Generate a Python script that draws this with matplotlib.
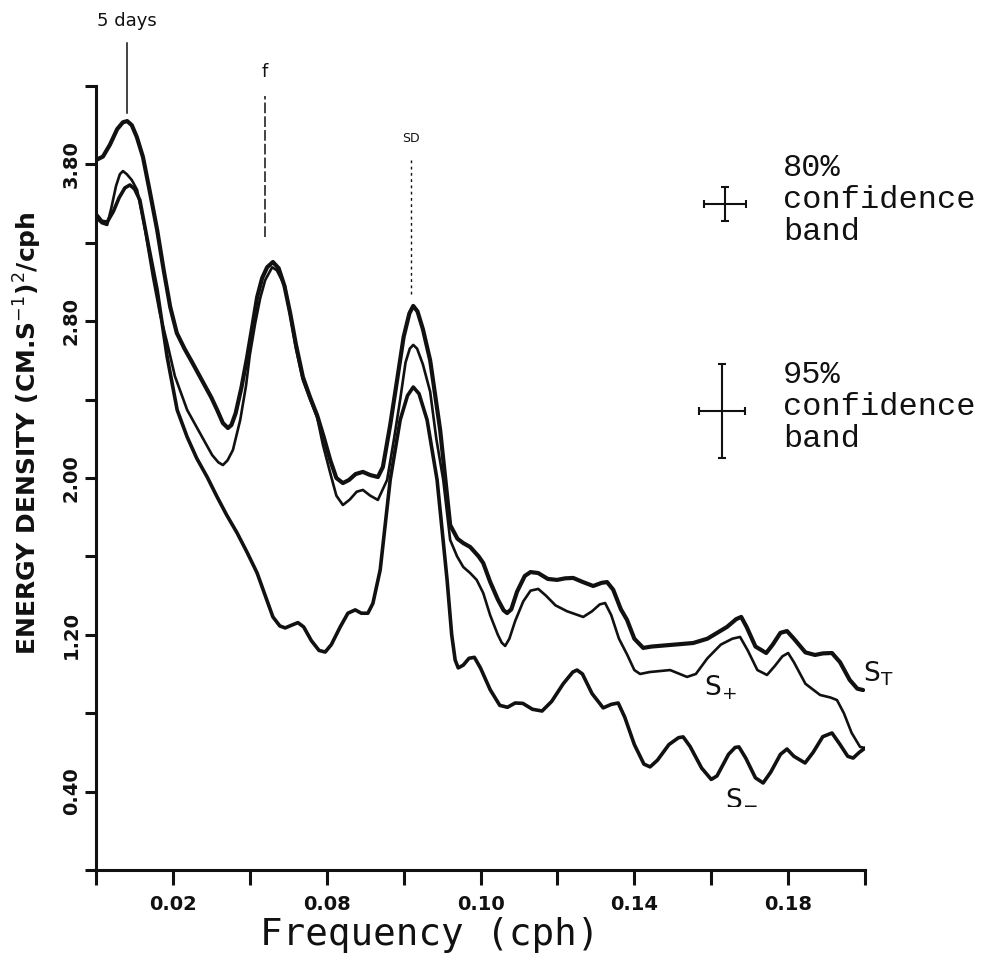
import matplotlib
matplotlib.use("Agg")
import matplotlib.pyplot as plt

# ---- spectra: total (S_T), clockwise (S_+) and anticlockwise (S_-) energy density ----
freq_total = [0.0, 0.0018, 0.0036, 0.0055, 0.0070, 0.0081, 0.0093, 0.0106, 0.0122, 0.0140,
              0.0159, 0.0176, 0.0193, 0.0210, 0.0230, 0.0250, 0.0275, 0.0300, 0.0315, 0.0330,
              0.0343, 0.0352, 0.0363, 0.0378, 0.0393, 0.0407, 0.0419, 0.0432, 0.0445, 0.0460,
              0.0475, 0.0490, 0.0505, 0.0520, 0.0538, 0.0557, 0.0575, 0.0592, 0.0609, 0.0625,
              0.0642, 0.0658, 0.0675, 0.0694, 0.0713, 0.0733, 0.0746, 0.0765, 0.0783, 0.0800,
              0.0815, 0.0825, 0.0836, 0.0850, 0.0869, 0.0895, 0.0921, 0.0940, 0.0955, 0.0973,
              0.0995, 0.1007, 0.1025, 0.1045, 0.1060, 0.1069, 0.1080, 0.1095, 0.1115, 0.1130,
              0.1150, 0.1175, 0.1199, 0.1220, 0.1241, 0.1265, 0.1293, 0.1315, 0.1329, 0.1345,
              0.1365, 0.1381, 0.1400, 0.1423, 0.1445, 0.1493, 0.1553, 0.1590, 0.1641, 0.1665,
              0.1678, 0.1692, 0.1715, 0.1743, 0.1760, 0.1780, 0.1797, 0.1815, 0.1845, 0.1870,
              0.1890, 0.1914, 0.1935, 0.1960, 0.1980, 0.1995]
energy_total = [3.622, 3.640, 3.700, 3.780, 3.815, 3.821, 3.800, 3.740, 3.638, 3.460,
                3.265, 3.060, 2.872, 2.740, 2.660, 2.590, 2.500, 2.410, 2.347, 2.280,
                2.255, 2.270, 2.330, 2.460, 2.617, 2.780, 2.923, 3.020, 3.075, 3.102,
                3.070, 2.980, 2.840, 2.680, 2.515, 2.410, 2.320, 2.210, 2.092, 2.000,
                1.974, 1.990, 2.020, 2.031, 2.015, 2.005, 2.056, 2.270, 2.500, 2.720,
                2.840, 2.878, 2.850, 2.760, 2.600, 2.245, 1.760, 1.690, 1.668, 1.648,
                1.600, 1.566, 1.470, 1.380, 1.325, 1.311, 1.330, 1.420, 1.500, 1.520,
                1.515, 1.485, 1.480, 1.488, 1.490, 1.470, 1.449, 1.465, 1.469, 1.430,
                1.330, 1.276, 1.180, 1.133, 1.140, 1.148, 1.158, 1.180, 1.240, 1.280,
                1.291, 1.240, 1.140, 1.107, 1.150, 1.210, 1.219, 1.180, 1.110, 1.097,
                1.105, 1.107, 1.060, 0.970, 0.925, 0.918]

freq_plus = [0.0, 0.0015, 0.0029, 0.0040, 0.0052, 0.0062, 0.0070, 0.0080, 0.0093, 0.0107,
             0.0128, 0.0148, 0.0166, 0.0185, 0.0205, 0.0237, 0.0270, 0.0302, 0.0318, 0.0330,
             0.0342, 0.0356, 0.0375, 0.0390, 0.0400, 0.0414, 0.0427, 0.0440, 0.0458, 0.0470,
             0.0491, 0.0505, 0.0520, 0.0538, 0.0557, 0.0575, 0.0590, 0.0609, 0.0625, 0.0642,
             0.0660, 0.0678, 0.0694, 0.0713, 0.0733, 0.0757, 0.0775, 0.0791, 0.0805, 0.0816,
             0.0825, 0.0835, 0.0850, 0.0869, 0.0885, 0.0903, 0.0921, 0.0939, 0.0955, 0.0973,
             0.0990, 0.1007, 0.1025, 0.1045, 0.1055, 0.1064, 0.1075, 0.1090, 0.1111, 0.1130,
             0.1150, 0.1170, 0.1195, 0.1225, 0.1267, 0.1290, 0.1310, 0.1324, 0.1340, 0.1360,
             0.1381, 0.1400, 0.1415, 0.1440, 0.1493, 0.1537, 0.1560, 0.1590, 0.1625, 0.1655,
             0.1675, 0.1695, 0.1720, 0.1745, 0.1765, 0.1785, 0.1800, 0.1815, 0.1845, 0.1883,
             0.1910, 0.1927, 0.1945, 0.1965, 0.1987, 0.2000]
energy_plus = [3.327, 3.300, 3.291, 3.380, 3.490, 3.550, 3.566, 3.550, 3.520, 3.469,
               3.260, 3.026, 2.840, 2.689, 2.520, 2.347, 2.230, 2.117, 2.080, 2.066,
               2.090, 2.143, 2.296, 2.470, 2.628, 2.790, 2.918, 3.010, 3.075, 3.060,
               2.980, 2.830, 2.660, 2.500, 2.400, 2.310, 2.170, 2.026, 1.910, 1.862,
               1.890, 1.930, 1.939, 1.910, 1.888, 1.990, 2.200, 2.400, 2.590, 2.660,
               2.679, 2.660, 2.580, 2.440, 2.200, 1.990, 1.684, 1.600, 1.546, 1.515,
               1.480, 1.413, 1.300, 1.200, 1.160, 1.143, 1.180, 1.270, 1.370, 1.425,
               1.434, 1.400, 1.350, 1.320, 1.291, 1.320, 1.355, 1.362, 1.300, 1.180,
               1.100, 1.020, 1.000, 1.010, 1.020, 0.985, 1.000, 1.080, 1.150, 1.180,
               1.189, 1.120, 1.020, 0.995, 1.040, 1.090, 1.107, 1.060, 0.950, 0.893,
               0.880, 0.867, 0.800, 0.700, 0.628, 0.622]

freq_minus = [0.0, 0.0015, 0.0029, 0.0045, 0.0060, 0.0075, 0.0088, 0.0100, 0.0114, 0.0136,
              0.0159, 0.0185, 0.0211, 0.0237, 0.0262, 0.0289, 0.0315, 0.0340, 0.0367, 0.0393,
              0.0419, 0.0440, 0.0460, 0.0478, 0.0492, 0.0510, 0.0525, 0.0540, 0.0560, 0.0580,
              0.0596, 0.0612, 0.0635, 0.0655, 0.0674, 0.0690, 0.0707, 0.0720, 0.0739, 0.0765,
              0.0791, 0.0810, 0.0825, 0.0840, 0.0861, 0.0887, 0.0913, 0.0925, 0.0934, 0.0942,
              0.0955, 0.0970, 0.0984, 0.1000, 0.1025, 0.1050, 0.1070, 0.1090, 0.1110, 0.1135,
              0.1160, 0.1185, 0.1215, 0.1240, 0.1251, 0.1265, 0.1290, 0.1319, 0.1340, 0.1358,
              0.1375, 0.1400, 0.1425, 0.1441, 0.1460, 0.1490, 0.1515, 0.1527, 0.1545, 0.1575,
              0.1600, 0.1615, 0.1645, 0.1662, 0.1672, 0.1690, 0.1715, 0.1735, 0.1755, 0.1780,
              0.1797, 0.1815, 0.1844, 0.1865, 0.1890, 0.1914, 0.1935, 0.1955, 0.1969, 0.1985,
              0.2000]
energy_minus = [3.347, 3.310, 3.306, 3.360, 3.430, 3.480, 3.495, 3.475, 3.418, 3.190,
                2.959, 2.617, 2.347, 2.209, 2.100, 2.005, 1.903, 1.810, 1.719, 1.620,
                1.515, 1.400, 1.291, 1.245, 1.235, 1.250, 1.262, 1.240, 1.170, 1.120,
                1.112, 1.150, 1.240, 1.310, 1.327, 1.310, 1.310, 1.360, 1.531, 1.990,
                2.296, 2.420, 2.464, 2.430, 2.296, 1.990, 1.480, 1.200, 1.071, 1.031,
                1.045, 1.080, 1.085, 1.030, 0.920, 0.840, 0.830, 0.852, 0.850, 0.820,
                0.811, 0.860, 0.950, 1.010, 1.020, 1.000, 0.900, 0.827, 0.845, 0.852,
                0.780, 0.640, 0.540, 0.526, 0.560, 0.640, 0.675, 0.679, 0.630, 0.520,
                0.462, 0.480, 0.590, 0.625, 0.628, 0.570, 0.470, 0.444, 0.500, 0.590,
                0.617, 0.580, 0.546, 0.600, 0.680, 0.699, 0.640, 0.580, 0.571, 0.600,
                0.622]

# ---- axis ticks and labels ----
x_ticks = [0.00, 0.02, 0.04, 0.06, 0.08, 0.10, 0.12, 0.14, 0.16, 0.18, 0.20]
x_tick_labels = ["", "0.02", "", "0.08", "", "0.10", "", "0.14", "", "0.18", ""]
y_ticks = [0.0, 0.4, 0.8, 1.2, 1.6, 2.0, 2.4, 2.8, 3.2, 3.6, 4.0]
y_tick_labels = ["", "0.40", "", "1.20", "", "2.00", "", "2.80", "", "3.80", ""]

# ---- marked periods: (frequency, label) ----
period_freqs = [0.00806, 0.04395, 0.0819]
period_labels = ["5 days", "f", "SD"]

# ---- confidence bands: (freq, energy, freq half-width, energy half-width) ----
band_80 = (0.1636, 3.398, 0.0055, 0.087)
band_95 = (0.1628, 2.342, 0.0060, 0.240)

ink = "#111111"

fig = plt.figure(figsize=(9.83, 9.63), dpi=100)
ax = fig.add_axes([0.0977, 0.0966, 0.7823, 0.8141])

ax.plot(freq_total, energy_total, color=ink, lw=3.0, solid_joinstyle="round", solid_capstyle="round")
ax.plot(freq_plus, energy_plus, color=ink, lw=1.9, solid_joinstyle="round", solid_capstyle="round")
ax.plot(freq_minus, energy_minus, color=ink, lw=2.6, solid_joinstyle="round", solid_capstyle="round")

ax.set_xlim(0, 0.2)
ax.set_ylim(0, 4.0)
for side in ("top", "right"):
    ax.spines[side].set_visible(False)
for side in ("left", "bottom"):
    ax.spines[side].set_linewidth(2.2)
    ax.spines[side].set_color(ink)

ax.set_xticks(x_ticks)
ax.set_xticklabels(x_tick_labels, fontsize=14, fontweight="bold", color=ink)
ax.set_yticks(y_ticks)
ax.set_yticklabels(y_tick_labels, fontsize=14, fontweight="bold", color=ink,
                   rotation=90, va="center")
ax.tick_params(axis="x", length=11, width=2.2, pad=7, color=ink)
ax.tick_params(axis="y", length=8, width=2.2, pad=3, color=ink)

ax.set_xlabel("Frequency (cph)", fontsize=27, family="DejaVu Sans Mono", color=ink)
ax.xaxis.set_label_coords(0.434, -0.060)
fig.text(0.028, 0.550, r"ENERGY DENSITY (CM.S$^{-1}$)$^{2}$/cph", rotation=90,
         fontsize=18, fontweight="bold", color=ink, ha="center", va="center")

# marker lines for the 5-day, inertial and semidiurnal peaks
ax.plot([period_freqs[0]] * 2, [3.86, 4.22], color=ink, lw=1.1, clip_on=False)
ax.text(period_freqs[0], 4.33, period_labels[0], fontsize=13, ha="center", va="center", color=ink)
ax.plot([period_freqs[1]] * 2, [3.23, 3.95], color=ink, lw=1.1, ls=(0, (7, 2)), clip_on=False)
ax.text(period_freqs[1], 4.07, period_labels[1], fontsize=13, ha="center", va="center", color=ink)
ax.plot([period_freqs[2]] * 2, [2.94, 3.63], color=ink, lw=1.0, ls=(0, (2, 2.5)), clip_on=False)
ax.text(period_freqs[2], 3.73, period_labels[2], fontsize=9, ha="center", va="center", color=ink)

# confidence band crosses
for (bx, by, bxe, bye), txt in ((band_80, "80%\nconfidence\nband"),
                                 (band_95, "95%\nconfidence\nband")):
    ax.errorbar([bx], [by], xerr=[bxe], yerr=[bye], fmt="none", ecolor=ink,
                elinewidth=1.5, capsize=3, capthick=1.5, clip_on=False)
    ax.text(0.1787, by + 0.02, txt, fontsize=23, family="Liberation Mono", color=ink,
            ha="left", va="center", linespacing=1.08, clip_on=False)

# curve labels
ax.text(0.1995, 1.00, r"$\mathrm{S}_{\mathrm{T}}$", fontsize=19, color=ink, ha="left", va="center")
ax.text(0.1580, 0.93, r"$\mathrm{S}_{+}$", fontsize=19, color=ink, ha="left", va="center")
ax.text(0.1635, 0.37, r"$\mathrm{S}_{-}$", fontsize=19, color=ink, ha="left", va="center")

fig.savefig("out.png", dpi=100, facecolor="white")
